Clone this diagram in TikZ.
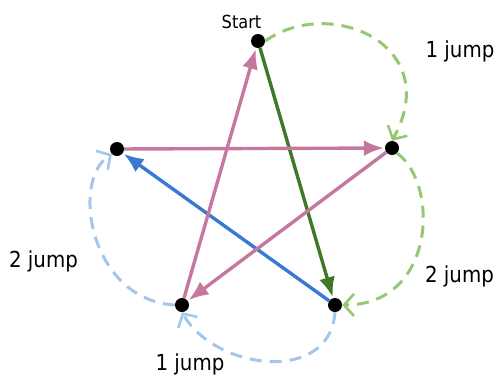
\documentclass[tikz,border=0pt]{standalone}
\usepackage{fontspec}
\setmainfont{DejaVu Sans Condensed}
\usetikzlibrary{arrows.meta}
\definecolor{dgreen}{RGB}{62,122,38}
\definecolor{lgreen}{RGB}{150,200,115}
\definecolor{pinkc}{RGB}{196,120,160}
\definecolor{bluec}{RGB}{58,120,210}
\definecolor{lblue}{RGB}{165,198,236}
\tikzset{
  dot/.style={circle,fill=black,inner sep=0pt,minimum size=14pt},
  solidarr/.style={line width=3.4pt,-{Latex[length=20pt,width=16pt]},shorten >=1pt},
  dasharr/.style={line width=3pt,dash pattern=on 12pt off 8pt,-{Straight Barb[length=10pt,width=22pt,line width=2.6pt]}},
  lab/.style={font=\fontsize{22}{26}\selectfont,inner sep=0pt,anchor=base}
}
\begin{document}
\begin{tikzpicture}[x=1pt,y=-1pt]
\useasboundingbox (0,0) rectangle (502,383);
\node[dot] (S) at (258,41) {};
\node[dot] (R) at (392,148) {};
\node[dot] (L) at (117,149) {};
\node[dot] (BL) at (182,305) {};
\node[dot] (BR) at (335,305) {};
\node[lab,font=\fontsize{18}{21}\selectfont] (st) at (241.5,28) {Start};
\node[lab] (j1) at (460,57) {1 jump};
\node[lab] (j2) at (459.5,282) {2 jump};
\node[lab] (j3) at (190,370) {1 jump};
\node[lab] (j4) at (43.5,267) {2 jump};
% solid
\draw[solidarr,dgreen] (S) -- (BR);
\draw[solidarr,bluec] (BR) -- (L);
\draw[solidarr,pinkc] (L) -- (R);
\draw[solidarr,pinkc] (R) -- (BL);
\draw[solidarr,pinkc] (BL) -- (S);
% dashed
\draw[dasharr,lgreen] (S.east) .. controls (330,-5) and (445,45) .. (R.north);
\draw[dasharr,lgreen] (R.south east) .. controls (440,185) and (435,305) .. (BR.east);
\draw[dasharr,lblue] (BR.south) .. controls (330,385) and (215,370) .. (BL.south);
\draw[dasharr,lblue] (BL.west) .. controls (90,300) and (70,180) .. (L.south west);
\end{tikzpicture}
\end{document}
